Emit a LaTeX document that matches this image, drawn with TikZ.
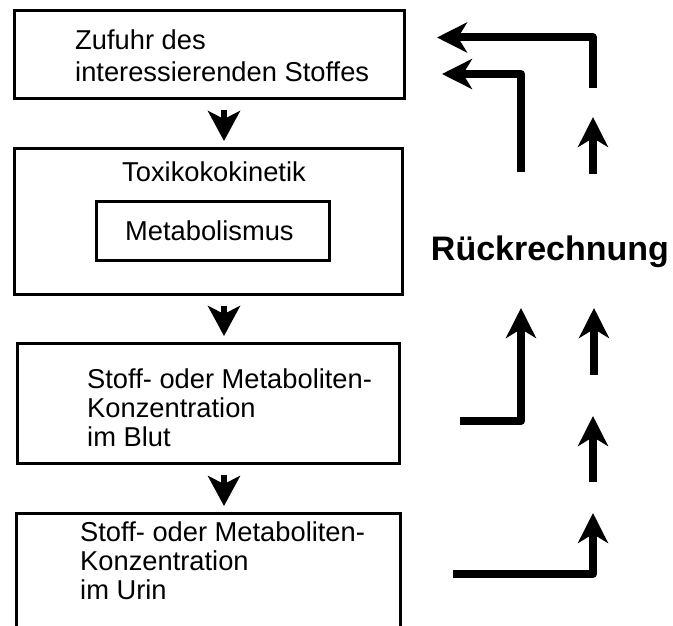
\documentclass[tikz,border=0pt]{standalone}
\usepackage{fontspec}
\setmainfont{Liberation Sans}
\usetikzlibrary{arrows.meta}
\tikzset{
  box/.style={draw, line width=3pt, inner sep=0pt, anchor=north west},
  txt/.style={font=\fontsize{27.3}{30}\selectfont, anchor=base west, inner sep=0pt},
  flow/.style={line width=6.5pt, -{Stealth[length=30pt, width=32pt, inset=8pt]},
               shorten <=10pt, shorten >=6pt},
  back/.style={line width=8pt, line join=round,
               -{Stealth[length=30pt, width=30pt, inset=9pt]}},
}
\begin{document}
\begin{tikzpicture}[x=1pt, y=-1pt]
  \clip (0,0) rectangle (673,626);
  \fill[white] (0,0) rectangle (673,626);

  % process chain
  \node[box, minimum width=390pt, minimum height=88pt]  (b1) at (13,9) {};
  \node[box, minimum width=388pt, minimum height=146pt] (b2) at (13,147) {};
  \node[box, minimum width=233pt, minimum height=59pt]  (b2i) at (95,200) {};
  \node[box, minimum width=382pt, minimum height=120pt] (b3) at (16,342) {};
  \node[box, minimum width=384pt, minimum height=180pt] (b4) at (15,512) {};

  \node[txt] (t1a) at (75,50) {Zufuhr des};
  \node[txt] (t1b) at (75,82) {interessierenden Stoffes};
  \node[txt] (t2)  at (122,182) {Toxikokokinetik};
  \node[txt] (t2i) at (125,240) {Metabolismus};
  \node[txt] (t3a) at (87,388) {Stoff- oder Metaboliten-};
  \node[txt] (t3b) at (87,417) {Konzentration};
  \node[txt] (t3c) at (87,446) {im Blut};
  \node[txt] (t4a) at (80,541) {Stoff- oder Metaboliten-};
  \node[txt] (t4b) at (80,570) {Konzentration};
  \node[txt] (t4c) at (80,599) {im Urin};

  \coordinate (ax) at (224,0);
  \draw[flow] (b1.south -| ax) -- (b2.north -| ax);
  \draw[flow] (b2.south -| ax) -- (b3.north -| ax);
  \draw[flow] (b3.south -| ax) -- (b4.north -| ax);

  % back-calculation
  \node[font=\fontsize{34}{40}\selectfont\bfseries, anchor=base, inner sep=0pt]
    (rk) at (550,260) {Rückrechnung};

  \coordinate (a0) at (593,88);  \coordinate (a1) at (593,37.5); \coordinate (a2) at (437,37.5);
  \coordinate (b0) at (521,172); \coordinate (b1c) at (521,74);  \coordinate (b2c) at (442,74);
  \coordinate (c0) at (593,174); \coordinate (c1) at (593,117);
  \coordinate (d0) at (460,421); \coordinate (d1) at (521,421);  \coordinate (d2) at (521,308);
  \coordinate (e0) at (594,375); \coordinate (e1) at (594,308);
  \coordinate (f0) at (593,482); \coordinate (f1) at (593,416);
  \coordinate (g0) at (453,574); \coordinate (g1) at (593,574);  \coordinate (g2) at (593,513);

  \draw[back] (a0) -- (a1) -- (a2);
  \draw[back] (b0) -- (b1c) -- (b2c);
  \draw[back] (c0) -- (c1);
  \draw[back] (d0) -- (d1) -- (d2);
  \draw[back] (e0) -- (e1);
  \draw[back] (f0) -- (f1);
  \draw[back] (g0) -- (g1) -- (g2);
\end{tikzpicture}
\end{document}
